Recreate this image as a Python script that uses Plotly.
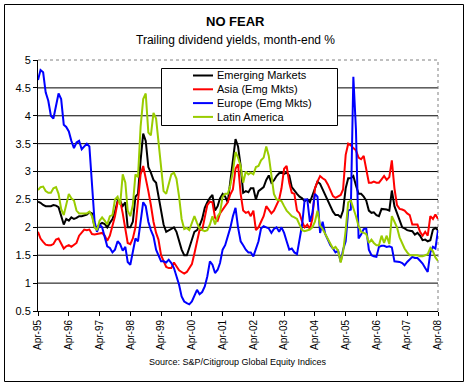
import pandas as pd
import plotly.graph_objects as go

# ---------------- data (month-end, Apr-95 .. Apr-08) ----------------
start_month = "1995-04-01"
n_months = 157
dates = pd.date_range(start_month, periods=n_months, freq="MS")

series_names = ["Emerging Markets", "Asia (Emg Mkts)", "Europe (Emg Mkts)", "Latin America"]
series_colors = ["#000000", "#FF0000", "#0000FF", "#99CC00"]

emerging = [
    2.46, 2.44, 2.40, 2.38, 2.38, 2.38, 2.40, 2.39, 2.36, 2.20,
    2.05, 2.15, 2.12, 2.18, 2.15, 2.17, 2.20, 2.20, 2.21, 2.23,
    2.27, 2.25, 2.00, 2.00, 2.05, 2.08, 2.06, 2.00, 2.08, 2.15,
    2.28, 2.47, 2.47, 2.38, 2.45, 2.00, 2.00, 2.10, 2.55, 2.60,
    3.20, 3.68, 3.55, 3.08, 2.98, 2.85, 2.80, 2.55, 2.27, 2.05,
    1.92, 1.95, 1.98, 2.00, 1.92, 1.75, 1.60, 1.50, 1.50, 1.63,
    1.78, 1.92, 1.95, 2.03, 2.15, 2.35, 2.45, 2.53, 2.58, 2.30,
    2.38, 2.52, 2.60, 2.55, 2.45, 2.85, 3.20, 3.58, 3.45, 3.10,
    2.62, 2.65, 2.63, 2.70, 2.70, 2.50, 2.65, 2.68, 2.72, 2.85,
    2.93, 2.80, 2.84, 2.92, 2.97, 2.98, 2.96, 2.98, 2.93, 2.72,
    2.65, 2.60, 2.55, 2.52, 2.47, 2.50, 2.45, 2.56, 2.70, 2.82,
    2.78, 2.68, 2.60, 2.48, 2.37, 2.28, 2.22, 2.22, 2.18, 2.30,
    2.70, 2.88, 2.88, 2.92, 2.75, 2.60, 2.60, 2.55, 2.48, 2.30,
    2.26, 2.27, 2.22, 2.20, 2.33, 2.33, 2.32, 2.30, 2.66, 2.38,
    2.25, 2.10, 2.00, 1.98, 1.95, 1.94, 1.93, 1.87, 1.90, 1.85,
    1.77, 1.78, 1.75, 1.77, 1.96, 1.99, 1.95,
]

asia = [
    1.92, 1.80, 1.74, 1.69, 1.68, 1.68, 1.70, 1.78, 1.80, 1.72,
    1.62, 1.66, 1.68, 1.65, 1.68, 1.72, 1.85, 1.90, 1.96, 1.95,
    1.96, 1.88, 1.87, 1.88, 1.89, 1.90, 1.85, 1.76, 1.85, 2.02,
    2.20, 2.45, 2.48, 2.25, 2.00, 1.72, 1.70, 1.80, 2.00, 2.50,
    2.95, 3.10, 2.90, 2.65, 2.40, 2.10, 1.90, 1.78, 1.50, 1.38,
    1.29, 1.27, 1.27, 1.37, 1.30, 1.23, 1.20, 1.17, 1.20, 1.27,
    1.34, 1.53, 1.72, 1.95, 1.95, 2.20, 2.40, 2.46, 2.45, 2.17,
    2.12, 2.25, 2.32, 2.37, 2.45, 2.59, 2.68, 3.05, 3.13, 2.60,
    2.30, 2.26, 2.28, 2.20, 2.30, 1.95, 2.00, 2.10, 2.20, 2.38,
    2.32, 2.25, 2.30, 2.40, 2.50, 2.70, 3.05, 3.10, 2.80, 2.62,
    2.60, 2.30, 2.25, 2.10, 2.00, 2.05, 1.97, 2.15, 2.70, 2.82,
    2.92, 2.88, 2.85, 2.77, 2.68, 2.56, 2.53, 2.55, 2.58, 2.68,
    3.30, 3.50, 3.47, 3.42, 3.38, 3.25, 3.22, 3.28, 3.05, 2.80,
    2.80, 2.82, 2.80, 2.80, 2.86, 2.92, 2.85, 2.90, 3.20, 2.70,
    2.40, 2.33, 2.32, 2.30, 2.25, 2.22, 2.05, 2.05, 2.05, 1.92,
    1.85, 1.92, 1.85, 2.20, 2.15, 2.23, 2.15,
]

europe = [
    4.64, 4.82, 4.78, 4.42, 4.27, 4.00, 3.95, 4.20, 4.40, 4.30,
    3.84, 3.80, 3.72, 3.55, 3.42, 3.52, 3.55, 3.40, 3.45, 3.50,
    3.45, 2.70, 2.10, 1.92, 2.05, 2.00, 1.80, 1.66, 1.63, 1.55,
    1.60, 1.75, 1.70, 1.58, 1.65, 1.38, 1.33, 1.55, 1.80, 1.75,
    2.10, 2.45, 2.38, 2.10, 1.95, 1.84, 1.60, 1.50, 1.39, 1.39,
    1.37, 1.42, 1.36, 1.27, 1.12, 0.97, 0.76, 0.67, 0.64, 0.62,
    0.67, 0.76, 0.88, 0.80, 0.84, 0.94, 1.12, 1.39, 1.33, 1.18,
    1.24, 1.36, 1.60, 1.68, 1.84, 1.99, 2.20, 2.35, 2.00, 1.75,
    1.68, 1.60, 1.55, 1.55, 1.48, 1.60, 1.75, 1.98, 2.02, 2.00,
    1.98, 1.90, 1.97, 2.00, 1.92, 2.00, 1.90, 1.75, 1.60, 1.62,
    1.55, 1.52, 1.75, 2.05, 2.50, 2.50, 2.10, 2.25, 2.60, 2.55,
    1.90, 2.10, 1.88, 1.78, 1.68, 1.62, 1.55, 1.58, 1.38, 1.60,
    1.75, 2.30, 2.32, 4.70, 3.75, 1.80, 1.87, 1.97, 1.98, 1.60,
    1.50, 1.48, 1.47, 1.65, 1.67, 1.67, 1.65, 1.66, 1.64, 1.39,
    1.39, 1.38, 1.36, 1.32, 1.38, 1.42, 1.47, 1.45, 1.45, 1.40,
    1.35, 1.27, 1.20, 1.55, 1.65, 1.62, 1.95,
]

latam = [
    2.67, 2.72, 2.73, 2.65, 2.62, 2.62, 2.70, 2.72, 2.60, 2.33,
    2.22, 2.40, 2.60, 2.52, 2.48, 2.30, 2.25, 2.25, 2.25, 2.25,
    2.28, 2.20, 2.00, 1.95, 2.12, 2.18, 2.12, 2.05, 2.20, 2.22,
    2.50, 2.55, 2.40, 2.95, 2.80, 2.30, 2.20, 2.40, 2.95, 2.90,
    3.80, 4.30, 4.40, 3.70, 3.65, 4.05, 3.95, 3.55, 3.05, 2.65,
    2.60, 2.75, 2.95, 2.98, 2.87, 2.55, 2.15, 1.97, 1.99, 1.95,
    2.10, 2.20, 2.08, 1.98, 1.95, 1.93, 1.95, 2.05, 2.20, 2.05,
    2.20, 2.26, 2.55, 2.60, 2.60, 2.75, 3.00, 3.35, 3.25, 3.10,
    2.80, 3.00, 2.95, 2.98, 2.95, 3.08, 3.10, 3.20, 3.25, 3.45,
    3.28, 2.90, 2.60, 2.50, 2.48, 2.47, 2.38, 2.30, 2.25, 2.20,
    2.18, 2.15, 2.05, 1.95, 1.93, 1.95, 1.96, 2.00, 2.10, 2.30,
    2.03, 1.97, 1.88, 1.80, 1.72, 1.62, 1.65, 1.58, 1.37, 1.55,
    1.95, 2.45, 2.48, 2.35, 2.20, 2.02, 1.92, 1.90, 1.88, 1.72,
    1.78, 1.72, 1.68, 1.68, 1.85, 1.72, 1.85, 1.70, 2.20, 2.10,
    2.00, 1.82, 1.70, 1.62, 1.55, 1.50, 1.50, 1.50, 1.50, 1.48,
    1.48, 1.50, 1.52, 1.63, 1.57, 1.46, 1.40,
]

series_values = [emerging, asia, europe, latam]
y_ticks = [0.5, 1.0, 1.5, 2.0, 2.5, 3.0, 3.5, 4.0, 4.5, 5.0]

title_text = "<b>NO FEAR</b>"
subtitle_text = "Trailing dividend yields, month-end %"
source_text = "Source: S&P/Citigroup Global Equity Indices"

# ---------------- layout constants ----------------
W, H = 469, 386
ML, MR, MT, MB = 38, 31, 60, 75
PW, PH = W - ML - MR, H - MT - MB
FONT = "Arial, 'Liberation Sans', sans-serif"


def px_x(px):
    return (px - ML) / PW


def px_y(py):
    return (H - MB - py) / PH


fig = go.Figure()
for name, vals, col in zip(series_names, series_values, series_colors):
    fig.add_trace(go.Scatter(x=dates, y=vals, mode="lines", name=name,
                             line=dict(color=col, width=2), showlegend=False))

shapes = []
# horizontal gridlines (black), top border dotted grey
for v in y_ticks[1:-1]:
    shapes.append(dict(type="line", xref="paper", yref="y", x0=0, x1=1, y0=v, y1=v,
                       line=dict(color="black", width=1), layer="below"))
shapes.append(dict(type="line", xref="paper", yref="paper", x0=0, x1=1, y0=1, y1=1,
                   line=dict(color="#808080", width=1, dash="dot"), layer="below"))
shapes.append(dict(type="line", xref="paper", yref="paper", x0=1, x1=1, y0=0, y1=1,
                   line=dict(color="#808080", width=1, dash="dot"), layer="below"))
# outer chart border
shapes.append(dict(type="rect", xref="paper", yref="paper",
                   x0=px_x(4.5), x1=px_x(463.5), y0=px_y(381.5), y1=px_y(4.5),
                   line=dict(color="black", width=1)))

# custom legend box
leg_x0, leg_x1, leg_y0, leg_y1 = 161.5, 337.5, 68.5, 125.5
shapes.append(dict(type="rect", xref="paper", yref="paper",
                   x0=px_x(leg_x0), x1=px_x(leg_x1), y0=px_y(leg_y1), y1=px_y(leg_y0),
                   line=dict(color="black", width=1), fillcolor="white", layer="above"))
annotations = []
row0, row_gap = 75.5, 13.8
for i, (name, col) in enumerate(zip(series_names, series_colors)):
    ry = row0 + i * row_gap
    shapes.append(dict(type="line", xref="paper", yref="paper",
                       x0=px_x(193), x1=px_x(213), y0=px_y(ry), y1=px_y(ry),
                       line=dict(color=col, width=2), layer="above"))
    annotations.append(dict(text=name, xref="paper", yref="paper", x=px_x(215), y=px_y(ry),
                            xanchor="left", yanchor="middle", showarrow=False,
                            font=dict(family=FONT, size=11, color="black")))

annotations.append(dict(text=title_text, xref="paper", yref="paper", x=px_x(235.5), y=px_y(22),
                        xanchor="center", yanchor="middle", showarrow=False,
                        font=dict(family=FONT, size=13, color="black")))
annotations.append(dict(text=subtitle_text, xref="paper", yref="paper", x=px_x(235.5), y=px_y(40),
                        xanchor="center", yanchor="middle", showarrow=False,
                        font=dict(family=FONT, size=12, color="black")))
annotations.append(dict(text=source_text, xref="paper", yref="paper", x=px_x(237.5), y=px_y(362),
                        xanchor="center", yanchor="middle", showarrow=False,
                        font=dict(family=FONT, size=9, color="black")))

fig.update_layout(
    template="none",
    width=W, height=H,
    margin=dict(l=ML, r=MR, t=MT, b=MB, pad=0, autoexpand=False),
    paper_bgcolor="white", plot_bgcolor="white",
    font=dict(family=FONT, color="black"),
    shapes=shapes, annotations=annotations,
    showlegend=False,
    xaxis=dict(type="date", range=[dates[0], dates[-1]], tick0=dates[0], dtick="M12",
               tickformat="%b-%y", tickangle=-90, ticks="outside", ticklen=4,
               tickcolor="black", showline=True, linecolor="black", linewidth=1,
               automargin=False,
               showgrid=False, zeroline=False, tickfont=dict(family=FONT, size=10, color="black")),
    yaxis=dict(range=[0.5, 5.0], tickvals=y_ticks, ticks="outside", ticklen=4,
               tickcolor="black", showline=True, linecolor="black", linewidth=1,
               automargin=False,
               showgrid=False, zeroline=False, tickfont=dict(family=FONT, size=11, color="black")),
)

fig.write_html("out.html", config={"displayModeBar": False},
               post_script="document.body.style.margin='0';document.body.style.overflow='hidden';")
